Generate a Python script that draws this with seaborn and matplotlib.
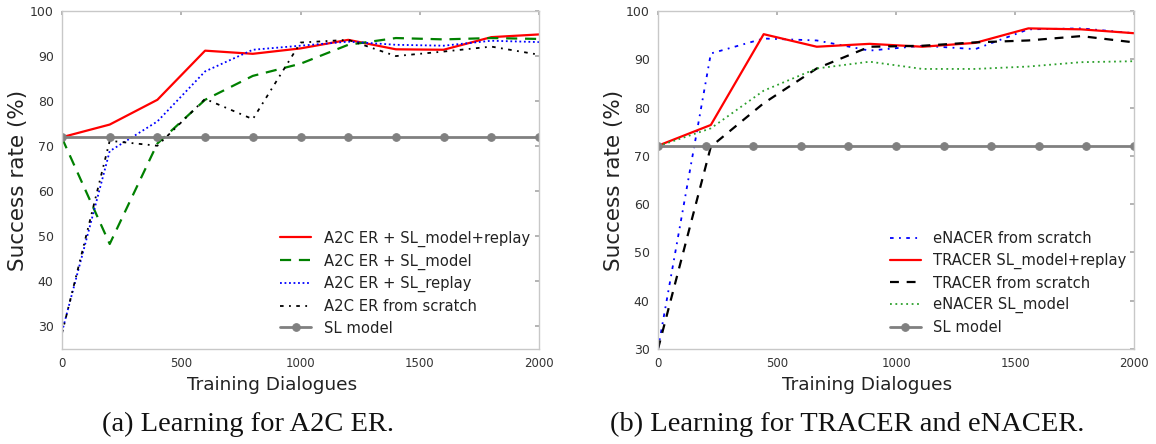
import numpy as np
import pandas as pd
import matplotlib
matplotlib.use("Agg")
import matplotlib.pyplot as plt
import seaborn as sns

# ---- data: panel (a) ----
x_a = [0, 200, 400, 600, 800, 1000, 1200, 1400, 1600, 1800, 2000]
a2c_model_replay = [72.0, 74.8, 80.3, 91.2, 90.5, 91.7, 93.6, 91.5, 91.4, 94.2, 94.8]
a2c_model = [71.8, 48.3, 70.6, 80.3, 85.6, 88.3, 92.5, 94.0, 93.7, 94.0, 93.8]
a2c_replay = [28.8, 68.9, 75.5, 86.6, 91.4, 92.3, 93.2, 92.5, 92.3, 93.4, 93.1]
a2c_scratch = [28.5, 71.2, 70.1, 80.5, 76.0, 93.0, 93.6, 90.0, 91.0, 92.1, 90.3]
sl_x = [0, 200, 400, 600, 800, 1000, 1200, 1400, 1600, 1800, 2000]
sl_model = [72, 72, 72, 72, 72, 72, 72, 72, 72, 72, 72]

# ---- data: panel (b) ----
x_b = [0, 222, 444, 667, 889, 1111, 1333, 1556, 1778, 2000]
enacer_scratch = [30.0, 91.2, 94.3, 93.9, 91.8, 92.8, 92.1, 96.2, 96.4, 95.4]
tracer_model_replay = [72.1, 76.4, 95.2, 92.6, 93.2, 92.6, 93.4, 96.4, 96.2, 95.4]
tracer_scratch = [30.0, 71.9, 80.9, 88.1, 92.6, 92.8, 93.5, 93.9, 94.8, 93.5]
enacer_model = [72.0, 75.7, 83.5, 88.1, 89.5, 88.0, 88.0, 88.5, 89.4, 89.6]

xticks = [0, 500, 1000, 1500, 2000]
yticks = [30, 40, 50, 60, 70, 80, 90, 100]

sns.set_theme(style="white")
plt.rcParams['font.family'] = ['DejaVu Sans']

W, H = 1156, 444
fig = plt.figure(figsize=(W / 100, H / 100), dpi=100)
axA = fig.add_axes([62 / W, 1 - 349 / H, (539 - 62) / W, (349 - 11) / H])
axB = fig.add_axes([658 / W, 1 - 349 / H, (1134 - 658) / W, (349 - 11) / H])

sl_kw = dict(color="#808080", linewidth=2, marker="o", markersize=5.5,
             markeredgecolor="#808080")

def draw(ax, x, y, label, **kw):
    sns.lineplot(x=x, y=y, ax=ax, label=label, sort=False, estimator=None, **kw)

draw(axA, x_a, a2c_model_replay, "A2C ER + SL_model+replay", color="#ff0000", linewidth=1.6, linestyle="-")
draw(axA, x_a, a2c_model, "A2C ER + SL_model", color="#008000", linewidth=1.6, linestyle=(0, (5, 3.5)))
draw(axA, x_a, a2c_replay, "A2C ER + SL_replay", color="#0000ff", linewidth=1.3, linestyle=(0, (1, 1.5)))
draw(axA, x_a, a2c_scratch, "A2C ER from scratch", color="#000000", linewidth=1.3, linestyle=(0, (2, 3, 1, 3)))
draw(axA, sl_x, sl_model, "SL model", **sl_kw)

draw(axB, x_b, enacer_scratch, "eNACER from scratch", color="#0000ff", linewidth=1.3, linestyle=(0, (2, 3, 1, 3)))
draw(axB, x_b, tracer_model_replay, "TRACER SL_model+replay", color="#ff0000", linewidth=1.6, linestyle="-")
draw(axB, x_b, tracer_scratch, "TRACER from scratch", color="#000000", linewidth=1.6, linestyle=(0, (4, 3.5)))
draw(axB, x_b, enacer_model, "eNACER SL_model", color="#2ca02c", linewidth=1.3, linestyle=(0, (1, 2)))
draw(axB, sl_x, sl_model, "SL model", **sl_kw)

for ax, ylim in [(axA, (25, 100)), (axB, (30, 100))]:
    ax.set_xlim(0, 2000)
    ax.set_ylim(*ylim)
    ax.set_xticks(xticks)
    ax.set_yticks(yticks)
    for s in ax.spines.values():
        s.set_visible(True)
        s.set_color("#c8c8c8")
        s.set_linewidth(1.0)
    ax.tick_params(axis="both", which="both", direction="in", length=3,
                   color="#aaaaaa", top=True, right=True, labelsize=8.5,
                   labelcolor="#333333", pad=6)
    ax.tick_params(axis="y", labelsize=9)
    ax.set_xlabel("Training Dialogues", fontsize=13.3, color="#222222", labelpad=1)
    ax.set_ylabel("Success rate (%)", fontsize=15.5, color="#222222")
    ax.xaxis.set_label_coords(0.44, -0.08)
    ax.yaxis.set_label_coords(-0.072, 0.5)

legA = axA.legend(loc="center left", bbox_to_anchor=(0.445, 0.195), frameon=False,
                  fontsize=10.6, handlelength=2.1, handletextpad=0.85,
                  labelspacing=0.45, borderaxespad=0)
legB = axB.legend(loc="center left", bbox_to_anchor=(0.475, 0.195), frameon=False,
                  fontsize=10.6, handlelength=2.1, handletextpad=0.85,
                  labelspacing=0.45, borderaxespad=0)
for leg in (legA, legB):
    for t in leg.get_texts():
        t.set_color("#222222")

fig.text(248 / W, 1 - 424 / H, "(a) Learning for A2C ER.", ha="center", va="center",
         fontsize=20.5, family=["Liberation Serif", "DejaVu Serif"], color="#111111")
fig.text(847 / W, 1 - 424 / H, "(b) Learning for TRACER and eNACER.", ha="center", va="center",
         fontsize=20.5, family=["Liberation Serif", "DejaVu Serif"], color="#111111")

fig.savefig("out.png", dpi=100)
